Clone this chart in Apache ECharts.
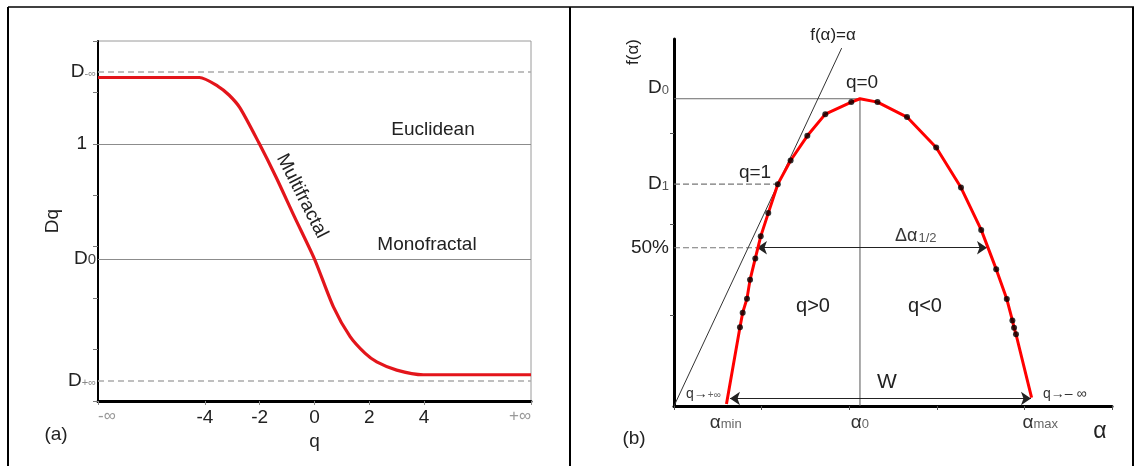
<!DOCTYPE html>
<html><head><meta charset="utf-8">
<script src="https://cdn.jsdelivr.net/npm/echarts@6/dist/echarts.min.js"></script>
<style>html,body{margin:0;padding:0;background:#fff}#c{width:1134px;height:466px}</style>
</head><body><div id="c"></div>
<script>
// ---------- Panel (a): Dq vs q ----------
const qVals  = [-7.9, -4.2, -3.52, -3.12, -2.72, -2.03, -1.41, -0.73, 0, 0.69, 1.30, 1.84, 2.27, 3.0, 3.97, 7.9];
const dqVals = [6.29, 6.29, 6.12, 5.95, 5.70, 5.02, 4.36, 3.58, 2.76, 1.83, 1.25, 0.93, 0.76, 0.60, 0.51, 0.51];
const qTickVals   = [-7.9, -4, -2, 0, 2, 4, 7.9];
const qTickLabels = ['-∞', '-4', '-2', '0', '2', '4', '+∞'];
const dqTickVals  = [0, 1, 2, 3, 4, 5, 6, 7];
const dqLabelVals = [6.40, 5, 2.76, 0.39];
const dqLabelText = ['{D|D}{s|-∞}', '{n|1}', '{D|D}{z|0}', '{D|D}{s|+∞}'];
const dMinusInf = 6.40, euclid = 5, d0a = 2.76, dPlusInf = 0.39;

// ---------- Panel (b): f(alpha) spectrum ----------
const alphaB = [0.599, 0.753, 0.784, 0.833, 0.868, 0.928, 0.990, 1.076, 1.185, 1.331, 1.522, 1.727, 2.024, 2.123, 2.323, 2.660, 2.993, 3.276, 3.507, 3.678, 3.799, 3.863, 3.882, 3.904, 4.082];
const fB     = [0.022, 0.865, 1.025, 1.179, 1.385, 1.621, 1.863, 2.118, 2.436, 2.696, 2.967, 3.205, 3.337, 3.374, 3.337, 3.173, 2.838, 2.399, 1.934, 1.503, 1.174, 0.940, 0.860, 0.788, 0.091];
const dotB   = [0, 1, 1, 1, 1, 1, 1, 1, 1, 1, 1, 1, 1, 0, 1, 1, 1, 1, 1, 1, 1, 1, 1, 1, 0];
const alphaLabelVals = [0.59, 2.123, 4.18];
const alphaLabelText = ['{a|α}{s|min}', '{a|α}{s|0}', '{a|α}{s|max}'];
const fLabelVals = [3.49, 2.436, 1.738];
const fLabelText = ['{D|D}{z|0}', '{D|D}{z|1}', '{n|50%}'];
const d0b = 3.374, alpha0 = 2.123, d1 = 2.436, alphaD1 = 1.185;
const half = 1.738, halfLeft = 0.947, halfRight = 3.573;
const wLevel = 0.082, wLeft = 0.639, wRight = 4.075;
const diagEnd = [1.914, 3.93];

const FONT = '"Liberation Sans", Arial, sans-serif';
const chart = echarts.init(document.getElementById('c'));

function txt(x, y, text, size, extra) {
  return Object.assign({
    type: 'text', x: x, y: y,
    style: Object.assign({ text: text, font: size + 'px ' + FONT, fill: '#222', align: 'center', verticalAlign: 'middle' }, extra && extra.style || {})
  }, extra && extra.el || {});
}

const nearest = (vals, texts) => (v) => {
  let bi = 0, bd = 1e9;
  vals.forEach((x, i) => { const d = Math.abs(x - v); if (d < bd) { bd = d; bi = i; } });
  return texts[bi];
};

const option = {
  animation: false,
  grid: [
    { left: 98, top: 41, width: 433, height: 360, show: true, borderColor: '#9a9a9a', borderWidth: 1, backgroundColor: 'transparent' },
    { left: 674, top: 39, width: 438, height: 367, show: false }
  ],
  xAxis: [
    {
      gridIndex: 0, type: 'value', min: -7.9, max: 7.9,
      name: 'q', nameLocation: 'middle', nameGap: 24,
      nameTextStyle: { fontFamily: FONT, fontSize: 19, color: '#222' },
      axisLine: { show: true, onZero: false, lineStyle: { color: '#000', width: 3 } },
      axisTick: { show: true, customValues: qTickVals, length: 4, lineStyle: { color: '#888' } },
      splitLine: { show: false },
      axisLabel: {
        customValues: qTickVals, margin: 7, alignMinLabel: 'left', alignMaxLabel: 'right',
        formatter: (v) => {
          const t = nearest(qTickVals, qTickLabels)(v);
          return (t === '-∞' || t === '+∞') ? '{inf|' + t + '}' : '{n|' + t + '}';
        },
        rich: {
          n: { fontFamily: FONT, fontSize: 19, color: '#222' },
          inf: { fontFamily: FONT, fontSize: 17, color: '#999' }
        }
      }
    },
    {
      gridIndex: 1, type: 'value', min: 0, max: 5,
      axisLine: { show: true, onZero: false, lineStyle: { color: '#000', width: 3 } },
      axisTick: { show: true, customValues: [0, 1, 2, 3, 4, 5], length: 4, lineStyle: { color: '#555' } },
      splitLine: { show: false },
      axisLabel: {
        customValues: alphaLabelVals, margin: 7,
        formatter: nearest(alphaLabelVals, alphaLabelText),
        rich: {
          a: { fontFamily: FONT, fontSize: 19, color: '#333' },
          s: { fontFamily: FONT, fontSize: 13, color: '#666', padding: [4, 0, 0, 0] }
        }
      }
    }
  ],
  yAxis: [
    {
      gridIndex: 0, type: 'value', min: 0, max: 7,
      name: 'Dq', nameLocation: 'middle', nameGap: 36,
      nameTextStyle: { fontFamily: FONT, fontSize: 19, color: '#222' },
      axisLine: { show: true, onZero: false, lineStyle: { color: '#000', width: 2 } },
      axisTick: { show: true, customValues: dqTickVals, length: 5, lineStyle: { color: '#777' } },
      splitLine: { show: false },
      axisLabel: {
        customValues: dqLabelVals, margin: 2,
        formatter: nearest(dqLabelVals, dqLabelText),
        rich: {
          D: { fontFamily: FONT, fontSize: 19, color: '#222' },
          s: { fontFamily: FONT, fontSize: 11, color: '#888', padding: [5, 0, 0, 0] },
          z: { fontFamily: FONT, fontSize: 15, color: '#444', padding: [2, 0, 0, 0] },
          n: { fontFamily: FONT, fontSize: 19, color: '#222', padding: [0, 9, 0, 0] }
        }
      }
    },
    {
      gridIndex: 1, type: 'value', min: 0, max: 4.03,
      axisLine: { show: true, onZero: false, lineStyle: { color: '#000', width: 3 } },
      axisTick: { show: true, customValues: [1, 2, 3], length: 4, lineStyle: { color: '#555' } },
      splitLine: { show: false },
      axisLabel: {
        customValues: fLabelVals, margin: 5,
        formatter: nearest(fLabelVals, fLabelText),
        rich: {
          D: { fontFamily: FONT, fontSize: 19, color: '#222' },
          z: { fontFamily: FONT, fontSize: 13, color: '#555', padding: [4, 0, 0, 0] },
          n: { fontFamily: FONT, fontSize: 19, color: '#222' }
        }
      }
    }
  ],
  series: [
    // Panel (a) reference lines
    {
      type: 'line', xAxisIndex: 0, yAxisIndex: 0, data: [], silent: true,
      markLine: {
        symbol: 'none', silent: true, label: { show: false },
        data: [
          { yAxis: euclid, lineStyle: { color: '#8c8c8c', width: 1, type: 'solid' } },
          { yAxis: d0a, lineStyle: { color: '#8c8c8c', width: 1, type: 'solid' } },
          { yAxis: dMinusInf, lineStyle: { color: '#aaa', width: 1.5, type: [6, 4] } },
          { yAxis: dPlusInf, lineStyle: { color: '#aaa', width: 1.5, type: [6, 4] } }
        ]
      }
    },
    {
      type: 'line', xAxisIndex: 0, yAxisIndex: 0, z: 5,
      data: qVals.map((q, i) => [q, dqVals[i]]),
      symbol: 'none', smooth: 0.25,
      lineStyle: { color: '#e3151b', width: 3.2 }
    },
    // Panel (b) reference lines
    {
      type: 'line', xAxisIndex: 1, yAxisIndex: 1, symbol: 'none', z: 2,
      data: [[0, d0b], [alpha0, d0b]], lineStyle: { color: '#6a6a6a', width: 1 }
    },
    {
      type: 'line', xAxisIndex: 1, yAxisIndex: 1, symbol: 'none', z: 2,
      data: [[alpha0, 0], [alpha0, d0b]], lineStyle: { color: '#555', width: 1 }
    },
    {
      type: 'line', xAxisIndex: 1, yAxisIndex: 1, symbol: 'none', z: 2,
      data: [[0, d1], [alphaD1, d1]], lineStyle: { color: '#777', width: 1.2, type: [6, 3] }
    },
    {
      type: 'line', xAxisIndex: 1, yAxisIndex: 1, symbol: 'none', z: 2,
      data: [[0, half], [halfLeft, half]], lineStyle: { color: '#777', width: 1.2, type: [6, 3] }
    },
    {
      type: 'line', xAxisIndex: 1, yAxisIndex: 1, symbol: 'none', z: 2,
      data: [[0, 0], diagEnd], lineStyle: { color: '#333', width: 1 }
    },
    {
      type: 'line', xAxisIndex: 1, yAxisIndex: 1, data: [], silent: true,
      markLine: {
        silent: true, symbol: ['arrow', 'arrow'], symbolSize: 10, label: { show: false },
        lineStyle: { color: '#222', width: 1, type: 'solid' },
        data: [
          [{ coord: [halfLeft, half] }, { coord: [halfRight, half] }],
          [{ coord: [wLeft, wLevel] }, { coord: [wRight, wLevel] }]
        ]
      }
    },
    {
      type: 'line', xAxisIndex: 1, yAxisIndex: 1, z: 5,
      data: alphaB.map((a, i) => [a, fB[i]]),
      symbol: 'none', lineStyle: { color: '#ff0000', width: 3 }
    },
    {
      type: 'scatter', xAxisIndex: 1, yAxisIndex: 1, z: 6,
      data: alphaB.map((a, i) => [a, fB[i]]).filter((p, i) => dotB[i]),
      symbolSize: 6, itemStyle: { color: '#000' }
    }
  ],
  graphic: [
    // frame
    { type: 'line', shape: { x1: 8, y1: 7, x2: 1134, y2: 7 }, style: { stroke: '#000', lineWidth: 1.5 } },
    { type: 'line', shape: { x1: 8, y1: 7, x2: 8, y2: 466 }, style: { stroke: '#000', lineWidth: 2 } },
    { type: 'line', shape: { x1: 570, y1: 7, x2: 570, y2: 466 }, style: { stroke: '#000', lineWidth: 2 } },
    { type: 'line', shape: { x1: 1133, y1: 7, x2: 1133, y2: 466 }, style: { stroke: '#000', lineWidth: 2 } },
    // panel (a) annotations
    txt(433, 130, 'Euclidean', 19),
    txt(427, 245, 'Monofractal', 19),
    txt(302, 196, 'Multifractal', 19, { el: { rotation: -1.1 } }),
    txt(56, 435, '(a)', 19),
    // panel (b) annotations
    txt(633, 52, 'f(α)', 17, { el: { rotation: Math.PI / 2 } }),
    txt(833, 35, 'f(α)=α', 17),
    txt(862, 83, 'q=0', 19),
    txt(755, 173, 'q=1', 19),
    { type: 'text', x: 895, y: 236, style: { text: '{a|Δα}{s|1/2}', align: 'left', verticalAlign: 'middle',
      rich: { a: { font: '18px ' + FONT, fill: '#333' }, s: { font: '13px ' + FONT, fill: '#555', padding: [4, 0, 0, 1] } } } },
    txt(813, 306, 'q>0', 20),
    txt(925, 306, 'q<0', 20),
    txt(887, 382, 'W', 21),
    { type: 'text', x: 686, y: 394, style: { text: '{a|q→}{s|+∞}', align: 'left', verticalAlign: 'middle',
      rich: { a: { font: '14px ' + FONT, fill: '#333' }, s: { font: '10px ' + FONT, fill: '#666', padding: [2, 0, 0, 0] } } } },
    { type: 'text', x: 1043, y: 394, style: { text: '{a|q→– ∞}', align: 'left', verticalAlign: 'middle',
      rich: { a: { font: '14px ' + FONT, fill: '#333' } } } },
    txt(1100, 432, 'α', 23),
    txt(634, 439, '(b)', 19)
  ]
};
chart.setOption(option);
</script>
</body></html>
